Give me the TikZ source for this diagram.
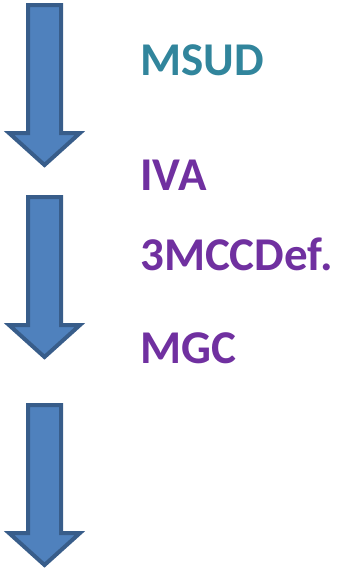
\documentclass[tikz,border=0pt]{standalone}
\usepackage{fontspec}
\setmainfont{Carlito}
\definecolor{arrowfill}{HTML}{4F81BD}
\definecolor{arrowline}{HTML}{385D8A}
\definecolor{tealtxt}{HTML}{31859C}
\definecolor{purpletxt}{HTML}{7030A0}
\tikzset{
  arrowstyle/.style={fill=arrowfill, draw=arrowline, line width=4pt, line join=miter},
  blockarrow/.pic={\draw[arrowstyle] (-16.5,0) -- (16.5,0) -- (16.5,-128) -- (35.5,-128) -- (0,-160) -- (-35.5,-128) -- (-16.5,-128) -- cycle;},
  label/.style={anchor=base west, inner sep=0pt, font=\fontsize{47}{56}\selectfont\bfseries}
}
\begin{document}
\begin{tikzpicture}[x=1pt,y=1pt]
\useasboundingbox (0,0) rectangle (337,-568);
\pic (a1) at (44.5,-5) {blockarrow};
\pic (a2) at (44.5,-197) {blockarrow};
\pic (a3) at (44.5,-405) {blockarrow};
\node[label, text=tealtxt] (msud) at (140,-75) {MSUD};
\node[label, text=purpletxt] (iva) at (140,-190) {IVA};
\node[label, text=purpletxt] (mcc) at (140,-270) {3MCCDef.};
\node[label, text=purpletxt] (mgc) at (140,-363) {MGC};
\end{tikzpicture}
\end{document}
